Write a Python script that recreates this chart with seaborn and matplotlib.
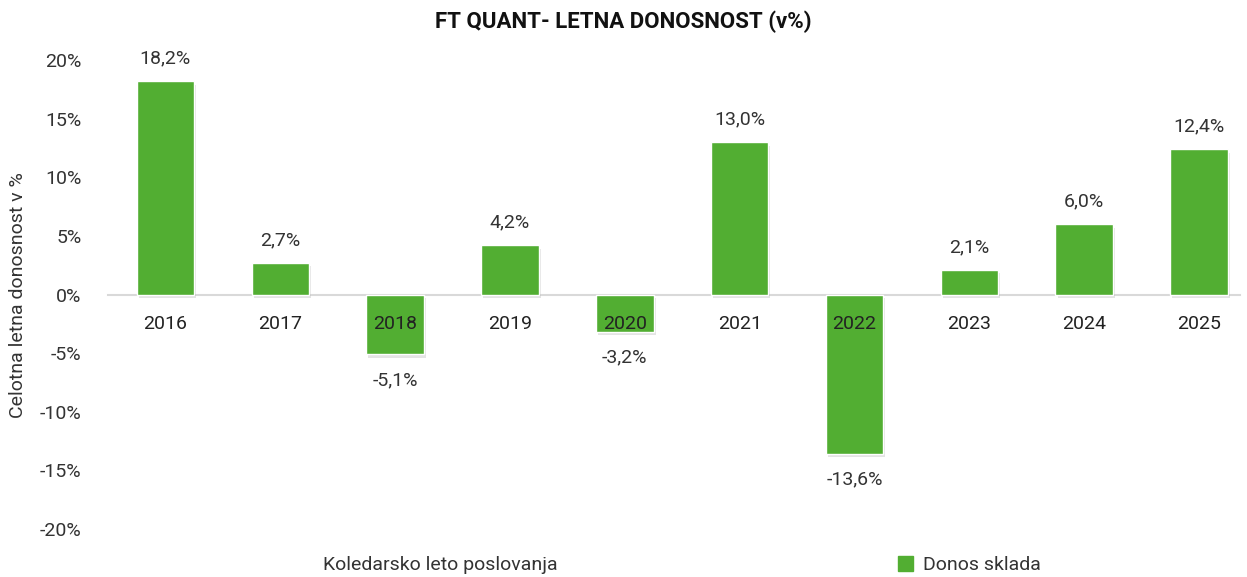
import matplotlib
matplotlib.use("Agg")
import matplotlib.pyplot as plt
import matplotlib.patheffects as pe
import seaborn as sns
import pandas as pd
from matplotlib.patches import Patch

years = ["2016", "2017", "2018", "2019", "2020", "2021", "2022", "2023", "2024", "2025"]
returns = [18.2, 2.7, -5.1, 4.2, -3.2, 13.0, -13.6, 2.1, 6.0, 12.4]
yticks = [20, 15, 10, 5, 0, -5, -10, -15, -20]

green = "#52ae32"
df = pd.DataFrame({"Leto": years, "Donos": returns})

sns.set_style("white")
plt.rcParams["font.family"] = ["Liberation Sans Narrow", "Roboto", "DejaVu Sans"]

fig = plt.figure(figsize=(12.47, 5.77), dpi=100)
ax = fig.add_axes([108 / 1247, 1 - 529 / 577, (1240 - 108) / 1247, (529 - 60) / 577])

sns.barplot(data=df, x="Leto", y="Donos", color=green, width=0.5, saturation=1, ax=ax, zorder=2)
for bar in ax.patches:
    bar.set_path_effects([pe.SimplePatchShadow(offset=(1.5, -2.5), shadow_rgbFace="#888888", alpha=0.22), pe.Normal()])

ax.set_axisbelow(False)
ax.set_ylim(-20, 20)
ax.set_xlim(-0.5, 9.357)
ax.set_yticks(yticks)
ax.set_yticklabels([f"{v}%" for v in yticks], fontsize=14, color="#333333")
ax.tick_params(axis="y", length=0, pad=19)
ax.tick_params(axis="x", length=0, pad=15, labelsize=14, labelcolor="#222222")

for s in ["top", "right", "left"]:
    ax.spines[s].set_visible(False)
ax.spines["bottom"].set_position(("data", 0))
ax.spines["bottom"].set_color("#d9d9d9")
ax.spines["bottom"].set_linewidth(1.5)
ax.spines["bottom"].set_zorder(1)
ax.set_xlabel("")
ax.set_ylabel("")

for i, v in enumerate(returns):
    lbl = f"{v:.1f}%".replace(".", ",")
    if v >= 0:
        ax.annotate(lbl, (i, v), xytext=(0, 10), textcoords="offset points", ha="center", va="bottom", fontsize=14, color="#333333")
    else:
        ax.annotate(lbl, (i, v), xytext=(0, -12), textcoords="offset points", ha="center", va="top", fontsize=14, color="#333333")

fig.text(623 / 1247, 1 - 22 / 577, "FT QUANT- LETNA DONOSNOST (v%)", ha="center", va="center", fontsize=16, fontweight="bold", color="#111111")
fig.text(18 / 1247, 1 - 295 / 577, "Celotna letna donosnost v %", ha="center", va="center", rotation=90, fontsize=14, color="#333333")
fig.text(440 / 1247, 1 - 565 / 577, "Koledarsko leto poslovanja", ha="center", va="center", fontsize=14, color="#333333")

fig.legend(handles=[Patch(color=green, label="Donos sklada")], loc="center left",
           bbox_to_anchor=(880 / 1247, 1 - 565 / 577), frameon=False, fontsize=14,
           handlelength=0.8, handleheight=0.8, handletextpad=0.5, labelcolor="#333333")

fig.savefig("out.png", dpi=100)
